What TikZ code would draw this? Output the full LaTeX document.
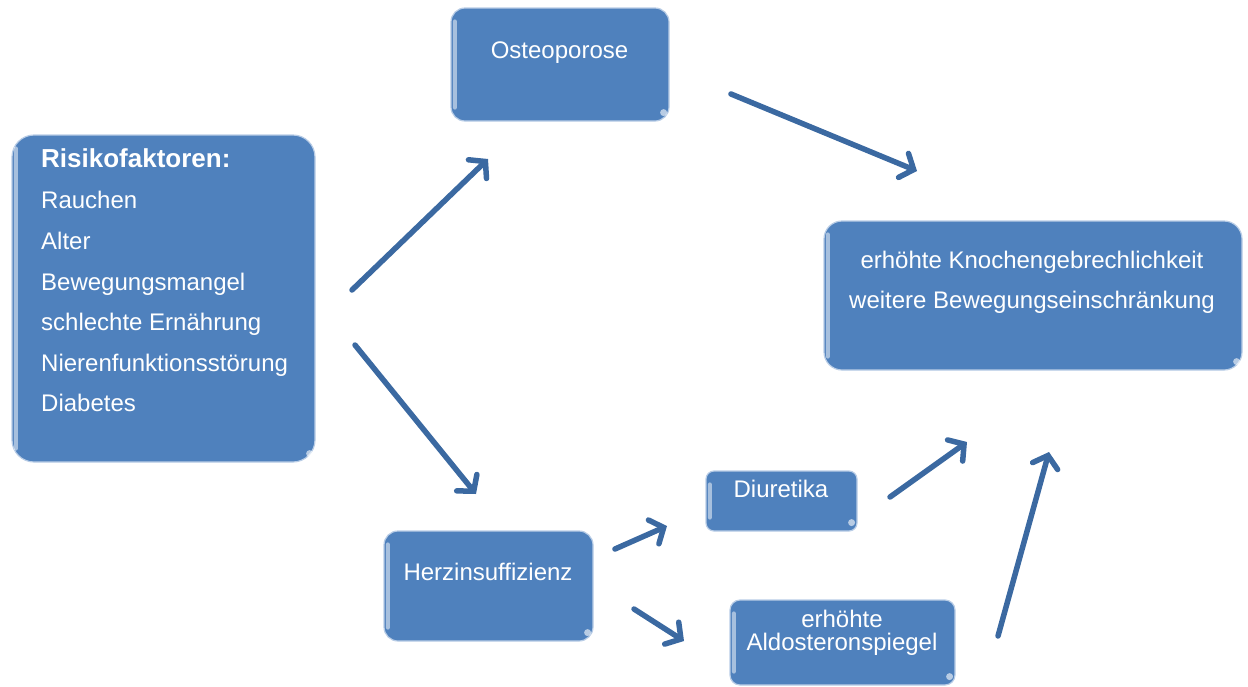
\documentclass[tikz,border=0pt]{standalone}
\usepackage{fontspec}
\setmainfont{Liberation Sans}
\usetikzlibrary{arrows.meta}
\definecolor{boxblue}{HTML}{4F81BD}
\definecolor{arrowblue}{HTML}{3B69A1}
\definecolor{edgeblue}{HTML}{B9CDE6}
\begin{document}
\begin{tikzpicture}[x=1pt,y=-1pt,
  box/.style={draw=edgeblue, line width=1.2pt, fill=boxblue, rounded corners=14pt, inner sep=0pt},
  txt/.style={text=white, font=\fontsize{24}{28}\selectfont, inner sep=0pt},
  arr/.style={draw=arrowblue, line width=5.5pt, line cap=round,
    -{Straight Barb[length=11pt,width=26pt,line cap=round]}},
  shine/.style={fill=white, opacity=0.5, rounded corners=2pt}
]
\useasboundingbox (0,0) rectangle (1248,686);

% boxes
\node[box, minimum width=303pt, minimum height=327pt, rounded corners=22pt] (risk) at (163.5,298.5) {};
\node[box, minimum width=218pt, minimum height=113pt] (osteo) at (560,64.5) {};
\node[box, minimum width=418pt, minimum height=149pt, rounded corners=18pt] (knochen) at (1033,295.5) {};
\node[box, minimum width=209pt, minimum height=110pt] (herz) at (488.5,586) {};
\node[box, minimum width=151pt, minimum height=60pt, rounded corners=8pt] (diur) at (781.5,501) {};
\node[box, minimum width=225pt, minimum height=85pt, rounded corners=10pt] (aldo) at (842.5,642.5) {};

% bevel highlights
\foreach \n in {risk,osteo,knochen,herz,diur,aldo}{
  \fill[shine] ([xshift=2.5pt,yshift=-12pt]\n.north west) rectangle ([xshift=6.5pt,yshift=12pt]\n.south west);
  \fill[white, opacity=0.6] ([xshift=-6pt,yshift=9pt]\n.south east) circle (3.5pt);
}

% texts
\node[txt, anchor=base west, font=\fontsize{26}{30}\selectfont\bfseries] (r0) at (41,167) {Risikofaktoren:};
\node[txt, anchor=base west] (r1) at (41,208.5) {Rauchen};
\node[txt, anchor=base west] (r2) at (41,249) {Alter};
\node[txt, anchor=base west] (r3) at (41,290) {Bewegungsmangel};
\node[txt, anchor=base west] (r4) at (41,330.5) {schlechte Ernährung};
\node[txt, anchor=base west] (r5) at (41,371) {Nierenfunktionsstörung};
\node[txt, anchor=base west] (r6) at (41,411.5) {Diabetes};

\node[txt, anchor=base] (t1) at (559.5,58.5) {Osteoporose};
\node[txt, anchor=base] (t2) at (1032,268) {erhöhte Knochengebrechlichkeit};
\node[txt, anchor=base] (t3) at (1032,308) {weitere Bewegungseinschränkung};
\node[txt, anchor=base] (t4) at (488,580) {Herzinsuffizienz};
\node[txt, anchor=base] (t5) at (781,497) {Diuretika};
\node[txt, anchor=base] (t6) at (842,627) {erhöhte};
\node[txt, anchor=base] (t7) at (842,650) {Aldosteronspiegel};

% arrow endpoints
\coordinate (a1s) at (352,290);  \coordinate (a1e) at (488,159);
\coordinate (a2s) at (355,345);  \coordinate (a2e) at (476,494);
\coordinate (a3s) at (731,94);   \coordinate (a3e) at (917,171);
\coordinate (a4s) at (615,549);  \coordinate (a4e) at (667,526);
\coordinate (a5s) at (634,609);  \coordinate (a5e) at (684,641);
\coordinate (a6s) at (890,497);  \coordinate (a6e) at (967,442);
\coordinate (a7s) at (998,636);  \coordinate (a7e) at (1049,452);

\draw[arr] (a1s) -- (a1e);
\draw[arr] (a2s) -- (a2e);
\draw[arr] (a3s) -- (a3e);
\draw[arr] (a4s) -- (a4e);
\draw[arr] (a5s) -- (a5e);
\draw[arr] (a6s) -- (a6e);
\draw[arr] (a7s) -- (a7e);
\end{tikzpicture}
\end{document}
